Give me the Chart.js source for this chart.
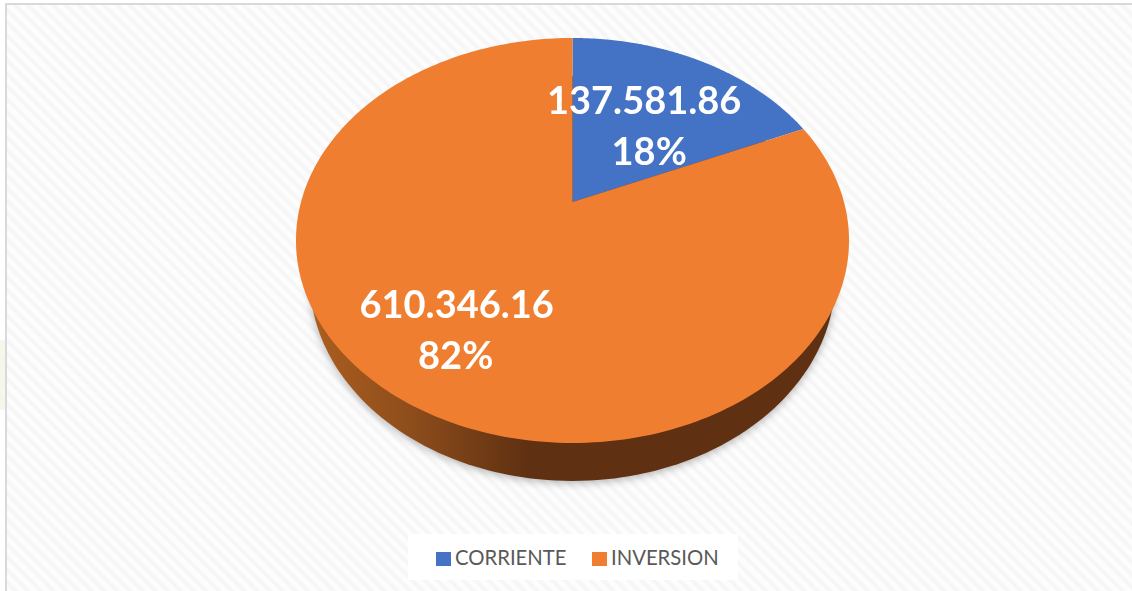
<!DOCTYPE html>
<html>
<head>
<meta charset="utf-8">
<title>Corriente / Inversion</title>
<script src="https://cdn.jsdelivr.net/npm/chart.js@4/dist/chart.umd.min.js"></script>
<style>
    html, body { margin: 0; padding: 0; background: #fff; overflow: hidden; }
    #frame {
        position: absolute; left: 5px; top: 3px; width: 1127px; height: 588px;
        box-sizing: border-box; border-left: 2px solid #d9d9d9; border-top: 2px solid #d9d9d9;
        background: repeating-linear-gradient(45deg, #fdfdfd 0, #fdfdfd 3px, #f6f6f6 5px, #f6f6f6 7px, #fdfdfd 9px);
    }
    #strip {
        position: absolute; left: 0; top: 340px; width: 5px; height: 70px;
        background: #f7f6ea;
    }
    #pie { position: absolute; left: 0; top: 0; }
    #legend {
        position: absolute; left: 408px; top: 534px; width: 330px; height: 46px; background: #fff;
        font: 20.3px Lato, sans-serif; color: #595959;
    }
    #legend i { position: absolute; top: 18px; width: 15px; height: 14px; }
    #legend span { position: absolute; top: 11px; white-space: nowrap; }
</style>
</head>
<body>
<div id="frame"></div>
<div id="strip"></div>
<canvas id="pie" width="1132" height="591"></canvas>
<div id="legend"></div>
<script>
var categories = ["CORRIENTE", "INVERSION"];
var values = [137581.86, 610346.16];
var colors = ["#4472C4", "#F07E30"];

// how far out on the slice each label sits, 0 centre, 1 rim
var labelRadius = [0.5, 0.7];
// sideways nudge of value line and percent line
var labelNudge = [[3, 8], [1, 0]];

// the pie is seen in perspective, so the hub is not at the centre of the ellipse
var hubX = 572.5, hubY = 202, scaleX = 271.5, scaleY = 156.8, tilt = 0.19;
var depth = 38;
var wallNarrow = 0.95; // lower rim of the wall is narrower than the top face

function project(u, v, dy, narrow) {
    var d = 1 + tilt * v;
    return { x: hubX + scaleX * u / d * (narrow || 1), y: (hubY - scaleY * v) / d + (dy || 0) };
}

// Chart.js angles start at -PI/2 for the top of the pie
function rimPoint(angle, r, dy, narrow) {
    return project(r * Math.cos(angle), -r * Math.sin(angle), dy, narrow);
}

function traceArc(ctx, start, end, dy, narrow) {
    var steps = 240;
    for (var i = 0; i <= steps; i++) {
        var p = rimPoint(start + (end - start) * i / steps, 1, dy, narrow);
        ctx.lineTo(p.x, p.y);
    }
}

function formatValue(n) {
    var parts = n.toFixed(2).split(".");
    return parts[0].replace(/\B(?=(\d{3})+$)/g, ".") + "." + parts[1];
}

var tiltedPie = {
    id: "tiltedPie",
    beforeDatasetDraw: function (chart) {
        var ctx = chart.ctx;
        var arcs = chart.getDatasetMeta(0).data;

        // side wall with its soft shadow
        var wall = ctx.createLinearGradient(296, 0, 849, 0);
        wall.addColorStop(0, "#B0601F");
        wall.addColorStop(0.2, "#8F4E1C");
        wall.addColorStop(0.42, "#5F3011");
        wall.addColorStop(1, "#5F3011");
        ctx.save();
        ctx.shadowColor = "rgba(0,0,0,0.3)";
        ctx.shadowBlur = 9;
        ctx.shadowOffsetY = 2;
        ctx.fillStyle = wall;
        ctx.beginPath();
        traceArc(ctx, 0, 2 * Math.PI, depth, wallNarrow);
        ctx.closePath();
        ctx.fill();
        ctx.restore();

        // top face, angles come from the library's arc elements
        arcs.forEach(function (arc, i) {
            ctx.fillStyle = colors[i];
            ctx.beginPath();
            ctx.moveTo(hubX, hubY);
            traceArc(ctx, arc.startAngle, arc.endAngle, 0);
            ctx.closePath();
            ctx.fill();
        });

        // data labels
        var total = values.reduce(function (a, b) { return a + b; }, 0);
        ctx.fillStyle = "#fff";
        ctx.font = "bold 38px Lato, sans-serif";
        ctx.textAlign = "center";
        ctx.textBaseline = "middle";
        arcs.forEach(function (arc, i) {
            var p = rimPoint((arc.startAngle + arc.endAngle) / 2, labelRadius[i], 0);
            ctx.fillText(formatValue(values[i]), p.x + labelNudge[i][0], p.y - 25);
            ctx.fillText(Math.round(values[i] / total * 100) + "%", p.x + labelNudge[i][1], p.y + 26);
        });
        return false;
    }
};

var chart = new Chart(document.getElementById("pie"), {
    type: "pie",
    data: {
        labels: categories,
        datasets: [{ data: values, backgroundColor: colors, borderWidth: 0 }]
    },
    options: {
        responsive: false,
        animation: false,
        plugins: {
            legend: { display: false },
            tooltip: { enabled: false }
        }
    },
    plugins: [tiltedPie]
});

// legend next to the chart, same labels and colours
var legendX = [[28, 47], [184, 203]];
var legend = document.getElementById("legend");
chart.data.labels.forEach(function (label, i) {
    var box = document.createElement("i");
    box.style.left = legendX[i][0] + "px";
    box.style.background = chart.data.datasets[0].backgroundColor[i];
    var text = document.createElement("span");
    text.style.left = legendX[i][1] + "px";
    text.textContent = label;
    legend.appendChild(box);
    legend.appendChild(text);
});
</script>
</body>
</html>
